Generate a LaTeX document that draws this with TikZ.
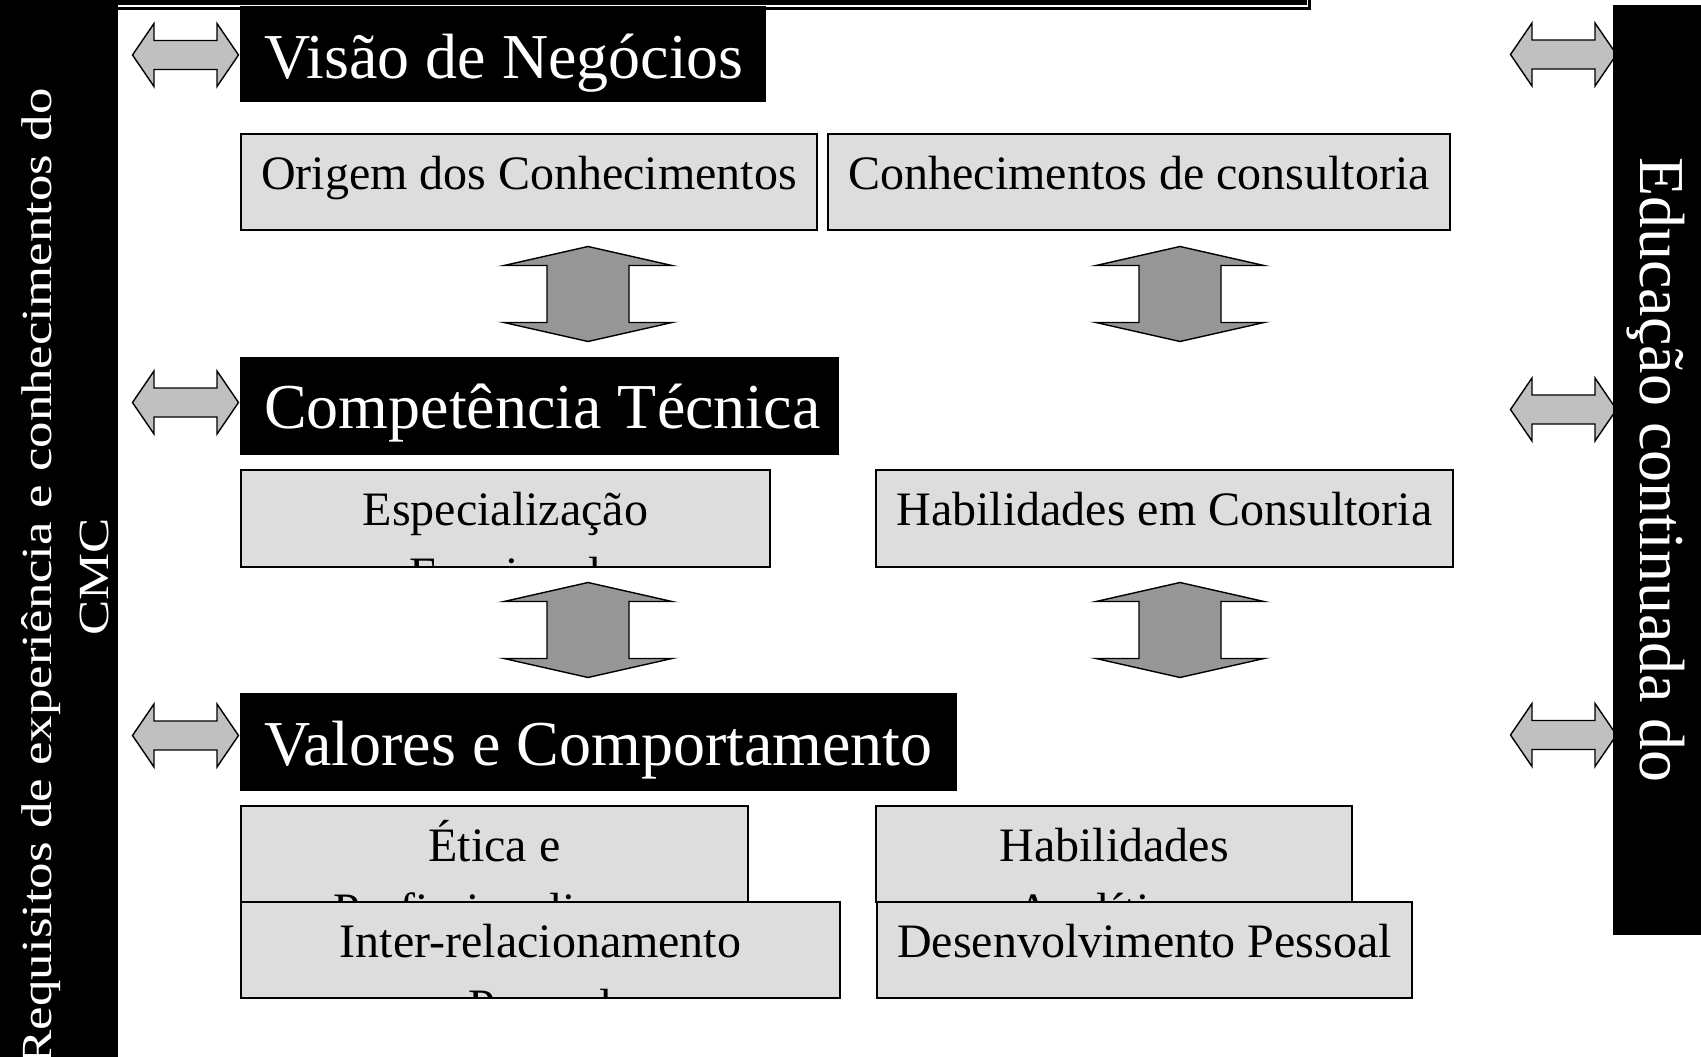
\documentclass[tikz,border=0pt]{standalone}
\usepackage{fontspec}
\setmainfont{Liberation Serif}
\definecolor{boxgrey}{HTML}{DDDDDD}
\definecolor{harrowgrey}{HTML}{C0C0C0}
\definecolor{varrowgrey}{HTML}{969696}
\tikzset{
  subbox/.style={draw=black, line width=1.6pt, fill=boxgrey, inner sep=0pt, outer sep=0pt, anchor=north west},
  subtext/.style={font=\fontsize{48}{55}\selectfont, anchor=base, inner sep=0pt, text=black},
  titlebox/.style={fill=black, inner sep=0pt, outer sep=0pt, anchor=north west},
  titletext/.style={font=\fontsize{64}{70}\selectfont, anchor=base west, inner sep=0pt, text=white},
  barbox/.style={fill=black, inner sep=0pt, outer sep=0pt, anchor=north west},
  lbartext/.style={font=\fontsize{43}{50}\selectfont, text=white, inner sep=0pt, rotate=90, anchor=base},
  rbartext/.style={font=\fontsize{64}{70}\selectfont, text=white, inner sep=0pt, rotate=-90, anchor=base},
  harrowstyle/.style={draw=black, line width=1.4pt, fill=harrowgrey, line join=miter},
  varrowstyle/.style={draw=black, line width=1.4pt, fill=varrowgrey, line join=miter},
  harrow/.pic={\draw[harrowstyle] (-53,0) -- (-31.5,-31.5) -- (-31.5,-14.5) -- (31.5,-14.5) -- (31.5,-31.5) -- (53,0) -- (31.5,31.5) -- (31.5,14.5) -- (-31.5,14.5) -- (-31.5,31.5) -- cycle;},
  varrow/.pic={\draw[varrowstyle] (0,-47.5) -- (84,-28.5) -- (41,-28.5) -- (41,28.5) -- (84,28.5) -- (0,47.5) -- (-84,28.5) -- (-41,28.5) -- (-41,-28.5) -- (-84,-28.5) -- cycle;}
}
\newcommand{\gboxdraw}[7]{%
  \node[subbox, minimum width={(#4)-(#2)}, minimum height={(#5)-(#3)}] (#1) at (#2,#3) {};
  \begin{scope}
    \clip (#2,#3) rectangle (#4,#5);
    \node[subtext] (#1-a) at ({((#2)+(#4))/2},{(#3)+55}) {#6};
    \node[subtext] (#1-b) at ({((#2)+(#4))/2},{(#3)+120}) {#7};
  \end{scope}
  \draw[draw=black, line width=1.6pt] (#1.north west) rectangle (#1.south east);}
\begin{document}
\begin{tikzpicture}[x=1pt,y=-1pt]
\useasboundingbox (0,0) rectangle (1701,1057);
\fill[white] (0,0) rectangle (1701,1057);
% top box (cut off at the top)
\fill[black] (110,-5) rectangle (1311,10.5);
\draw[white, line width=1.5pt] (110,6.2) -- (1307.5,6.2) -- (1307.5,-5);
% title boxes
\node[titlebox, minimum width=526, minimum height=96] (visao) at (240,6) {};
\node[titletext] (visao-t) at (264,78) {Visão de Negócios};
\node[titlebox, minimum width=599, minimum height=98] (comp) at (240,357) {};
\node[titletext] (comp-t) at (264,428) {Competência Técnica};
\node[titlebox, minimum width=717, minimum height=98] (valores) at (240,693) {};
\node[titletext] (valores-t) at (264,765) {Valores e Comportamento};
% grey boxes
\gboxdraw{origem}{241}{134}{817}{230}{Origem dos Conhecimentos}{}
\gboxdraw{consult}{828}{134}{1450}{230}{Conhecimentos de consultoria}{}
\gboxdraw{esp}{241}{470}{770}{567}{Especialização}{Funcional}
\gboxdraw{habcons}{876}{470}{1453}{567}{Habilidades em Consultoria}{}
\gboxdraw{etica}{241}{806}{748}{902}{Ética e}{Profissionalismo}
\gboxdraw{habanal}{876}{806}{1352}{902}{Habilidades}{Analíticas}
\gboxdraw{inter}{241}{902}{840}{998}{Inter-relacionamento}{Pessoal}
\gboxdraw{desenv}{877}{902}{1412}{998}{Desenvolvimento Pessoal}{}
% vertical double arrows
\pic (va1) at (588,294) {varrow};
\pic (va2) at (1180,294) {varrow};
\pic (va3) at (588,630) {varrow};
\pic (va4) at (1180,630) {varrow};
% horizontal double arrows
\pic (hl1) at (185.5,55) {harrow};
\pic (hl2) at (185.5,402.5) {harrow};
\pic (hl3) at (185.5,735.5) {harrow};
\pic (hr1) at (1563.5,54.5) {harrow};
\pic (hr2) at (1563.5,409.5) {harrow};
\pic (hr3) at (1563.5,735) {harrow};
% side bars
\node[barbox, minimum width=118, minimum height=1057] (lbar) at (0,0) {};
\begin{scope}
  \clip (0,0) rectangle (118,1057);
  \node[lbartext] (lreq1) at (51,577) {\scalebox{1.23}[1]{Requisitos de experiência e conhecimentos do}};
  \node[lbartext] (lreq2) at (108,577) {\scalebox{1.23}[1]{CMC}};
\end{scope}
\node[barbox, minimum width=88, minimum height=930] (rbar) at (1613,5) {};
\begin{scope}
  \clip (1613,5) rectangle (1701,935);
  \node[rbartext] (redu) at (1640,470) {Educação continuada do};
\end{scope}
\end{tikzpicture}
\end{document}
